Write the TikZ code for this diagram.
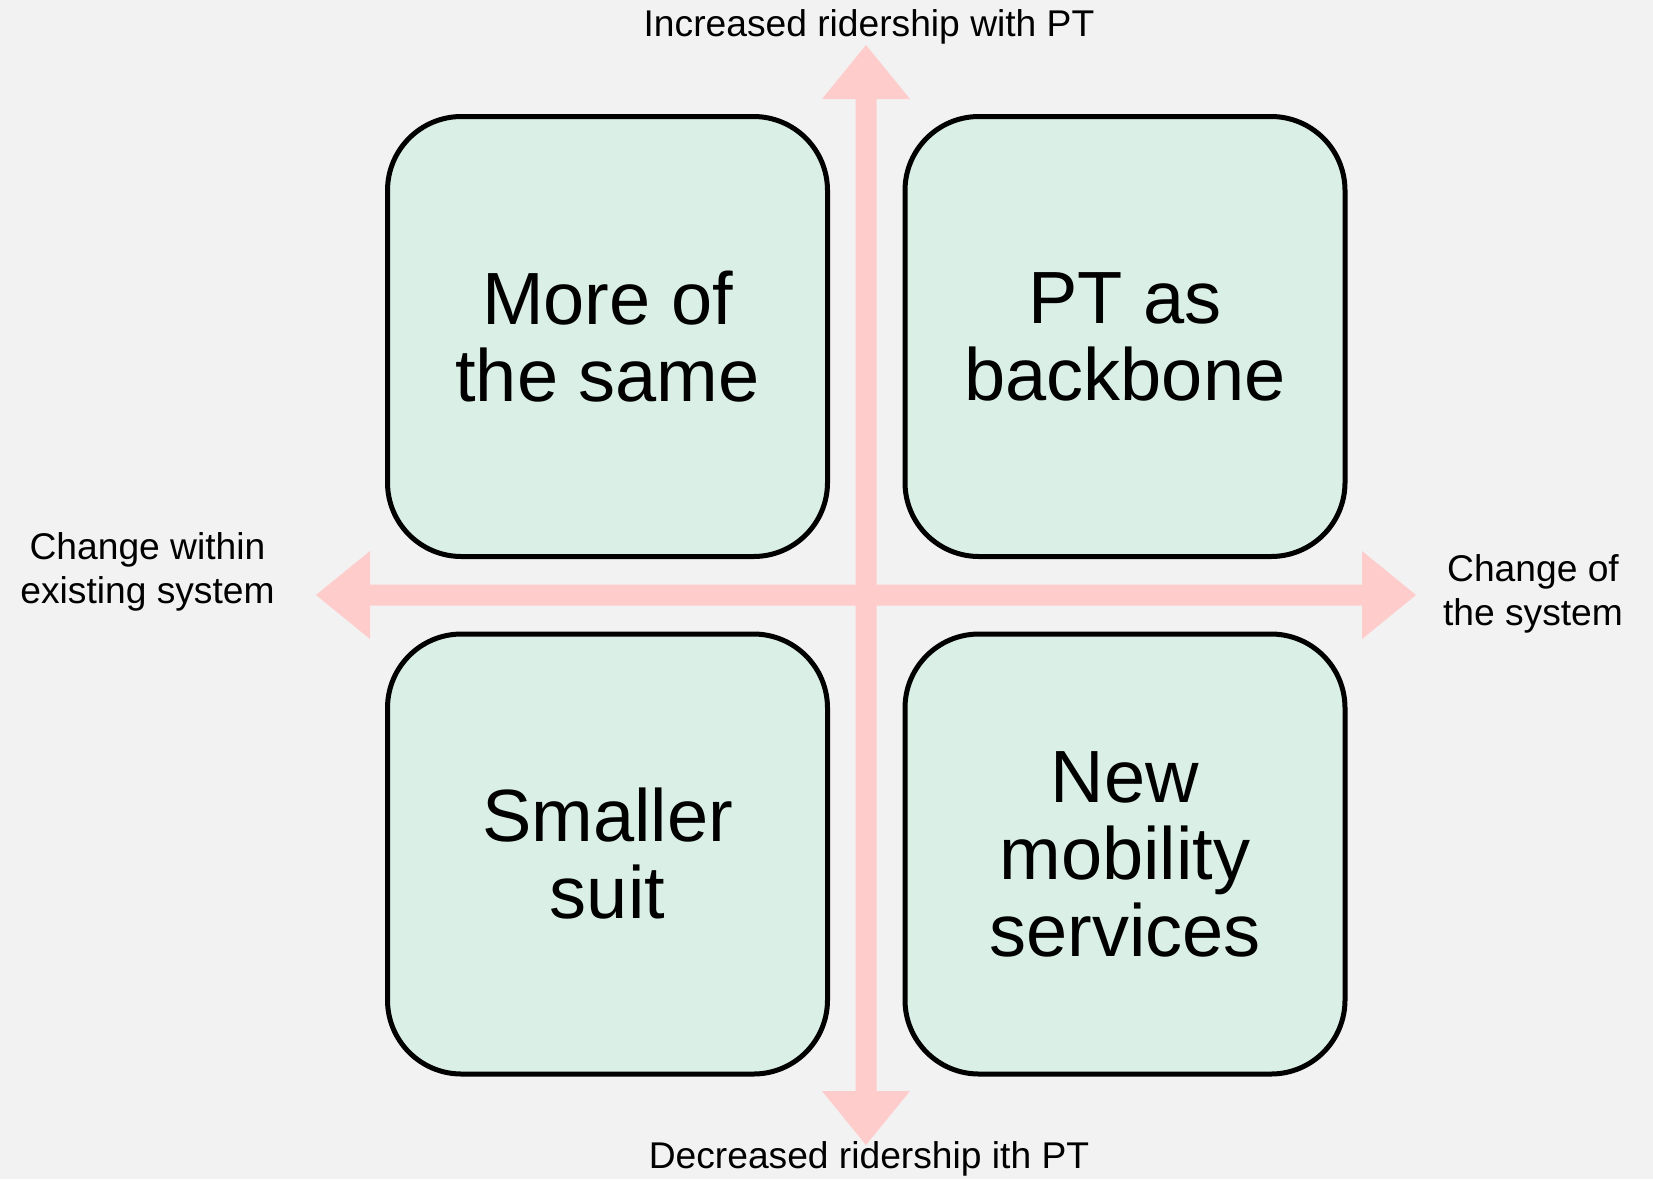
\documentclass[tikz,border=0pt]{standalone}
\usepackage{fontspec}
\setmainfont{Liberation Sans}
\usepackage{tikz}
\usetikzlibrary{calc}

\definecolor{bggray}{HTML}{F2F2F2}
\definecolor{quadgreen}{HTML}{DAEFE6}
\definecolor{axispink}{HTML}{FFCCCC}

\begin{document}
\begin{tikzpicture}[x=0.5pt,y=-0.5pt,
	quad/.style={draw=black,line width=2.5pt,fill=quadgreen,rounded corners=37pt,
		minimum width=220pt,minimum height=220pt,align=center,
		font=\fontsize{37}{38.5}\selectfont},
	axislabel/.style={align=center,font=\fontsize{18.6}{22}\selectfont},
	axis/.style={fill=axispink}]
	
	\fill[bggray] (0,0) rectangle (1653,1179);
	\useasboundingbox (0,0) rectangle (1653,1179);
	
	\coordinate (up)    at (866, 45);
	\coordinate (down)  at (866, 1145);
	\coordinate (left)  at (316, 595);
	\coordinate (right) at (1416, 595);
	
	\fill[axis] (left) -- ++(54,-44) -- ++(0,33.5) -- ($(right)+(-54,-10.5)$) -- ++(0,-33.5)
		-- (right) -- ++(-54,44) -- ++(0,-33.5) -- ($(left)+(54,10.5)$) -- ++(0,33.5) -- cycle;
	\fill[axis] (up) -- ++(44,54) -- ++(-33.5,0) -- ($(down)+(10.5,-54)$) -- ++(33.5,0)
		-- (down) -- ++(-44,-54) -- ++(33.5,0) -- ($(up)+(-10.5,54)$) -- ++(-33.5,0) -- cycle;
	
	\node[quad] (same)     at (607.5, 336.5)  {More of\\the same};
	\node[quad] (backbone) at (1125, 336.5)   {PT as\\backbone};
	\node[quad] (smaller)  at (607.5, 854)    {Smaller\\suit};
	\node[quad] (newmob)   at (1125, 854)     {New\\mobility\\services};
	
	\node[axislabel,anchor=base] (incr)   at (869, 36)     {Increased ridership with PT};
	\node[axislabel,anchor=base] (decr)   at (869, 1168)   {Decreased ridership ith PT};
	\node[axislabel] (within) at (147.5, 572)  {Change within\\existing system};
	\node[axislabel] (ofsys)  at (1533, 593.5) {Change of\\the system};
	
\end{tikzpicture}
\end{document}
